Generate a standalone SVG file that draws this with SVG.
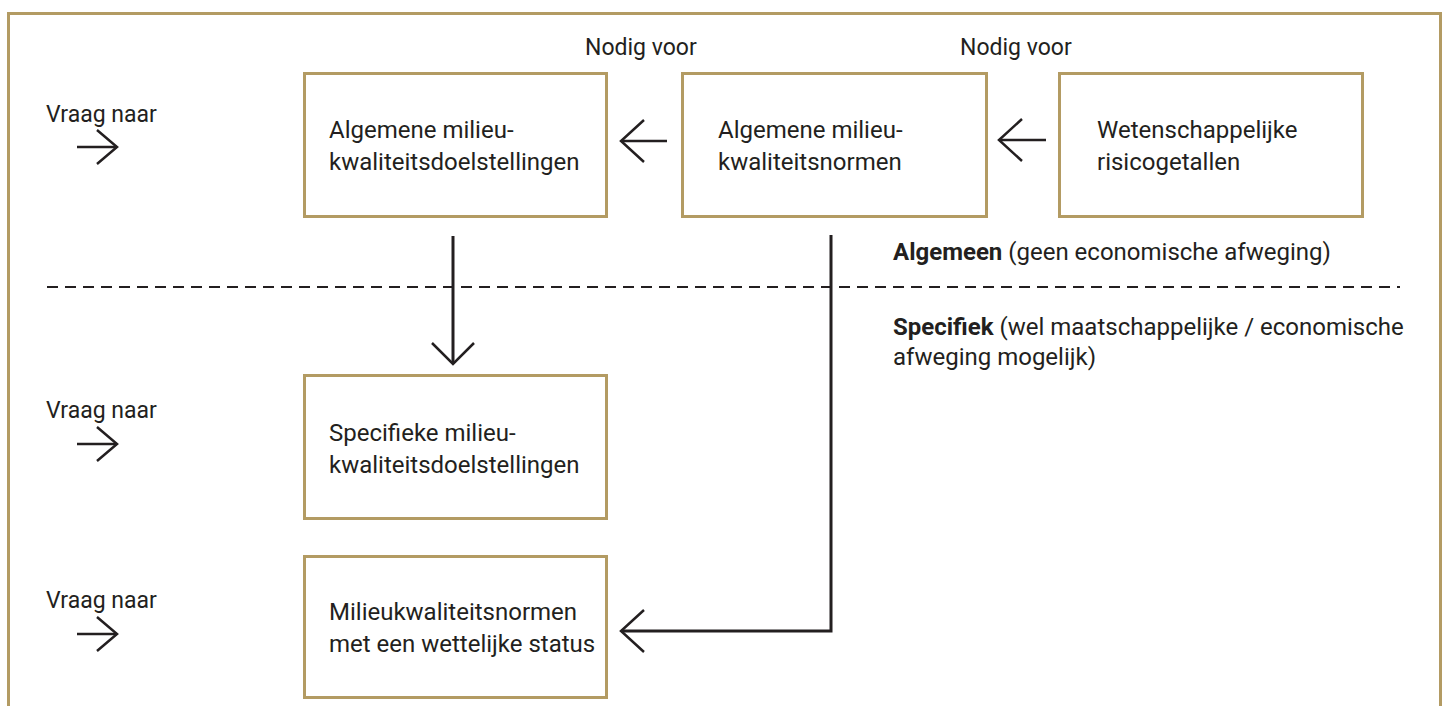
<svg xmlns="http://www.w3.org/2000/svg" width="1449" height="706" viewBox="0 0 1449 706">
<style>
text{font-family:Roboto,"Liberation Sans",sans-serif;font-size:24px;fill:#231f20}
.s{font-size:23px}
.b{font-weight:bold}
.box{fill:#fff;stroke:#b39b63;stroke-width:3}
.ln{fill:none;stroke:#231f20;stroke-width:3}
.ah{fill:none;stroke:#231f20;stroke-width:2.5;stroke-linecap:butt;stroke-linejoin:miter}
</style>
<rect x="0" y="0" width="1449" height="706" fill="#fff"/>
<rect x="8.5" y="13.5" width="1432" height="720" fill="none" stroke="#b39b63" stroke-width="3"/>
<g id="labels">
<text class="s" x="46" y="122">Vraag naar</text>
<text class="s" x="46" y="418">Vraag naar</text>
<text class="s" x="46" y="608">Vraag naar</text>
<text class="s" x="585" y="55">Nodig voor</text>
<text class="s" x="960" y="55">Nodig voor</text>
<text x="893" y="260"><tspan class="b">Algemeen</tspan> (geen economische afweging)</text>
<text x="893" y="335"><tspan class="b">Specifiek</tspan> (wel maatschappelijke / economische</text>
<text x="893" y="365">afweging mogelijk)</text>
</g>
<g id="n1"><rect class="box" x="304.5" y="73.5" width="302" height="143"/><text x="329" y="138">Algemene milieu-</text><text x="329" y="170">kwaliteitsdoelstellingen</text></g>
<g id="n2"><rect class="box" x="682.5" y="73.5" width="304" height="143"/><text x="718" y="138">Algemene milieu-</text><text x="718" y="170">kwaliteitsnormen</text></g>
<g id="n3"><rect class="box" x="1059.5" y="73.5" width="303" height="143"/><text x="1097" y="138">Wetenschappelijke</text><text x="1097" y="170">risicogetallen</text></g>
<g id="n4"><rect class="box" x="304.5" y="375.5" width="302" height="143"/><text x="329" y="441">Specifieke milieu-</text><text x="329" y="473">kwaliteitsdoelstellingen</text></g>
<g id="n5"><rect class="box" x="304.5" y="556.5" width="302" height="141"/><text x="329" y="620">Milieukwaliteitsnormen</text><text x="329" y="652">met een wettelijke status</text></g>
<line x1="47" y1="287" x2="1400" y2="287" stroke="#231f20" stroke-width="2" stroke-dasharray="11 7"/>
<g id="connectors">
<line class="ah" x1="77" y1="147" x2="117" y2="147"/><polyline class="ah" points="97,130 117,147 97,164"/>
<line class="ah" x1="77" y1="444" x2="117" y2="444"/><polyline class="ah" points="97,427 117,444 97,461"/>
<line class="ah" x1="77" y1="634" x2="117" y2="634"/><polyline class="ah" points="97,617 117,634 97,651"/>
<line class="ah" x1="621" y1="141" x2="667" y2="141"/><polyline class="ah" points="644,120 621,141 644,162"/>
<line class="ah" x1="999" y1="140" x2="1046" y2="140"/><polyline class="ah" points="1022,119 999,140 1022,161"/>
<line class="ln" x1="453" y1="236" x2="453" y2="364"/><polyline class="ah" points="432,343 453,364 474,343"/>
<polyline class="ln" points="831,235 831,631 621,631"/><polyline class="ah" points="644,610 621,631 644,652"/>
</g>
</svg>
